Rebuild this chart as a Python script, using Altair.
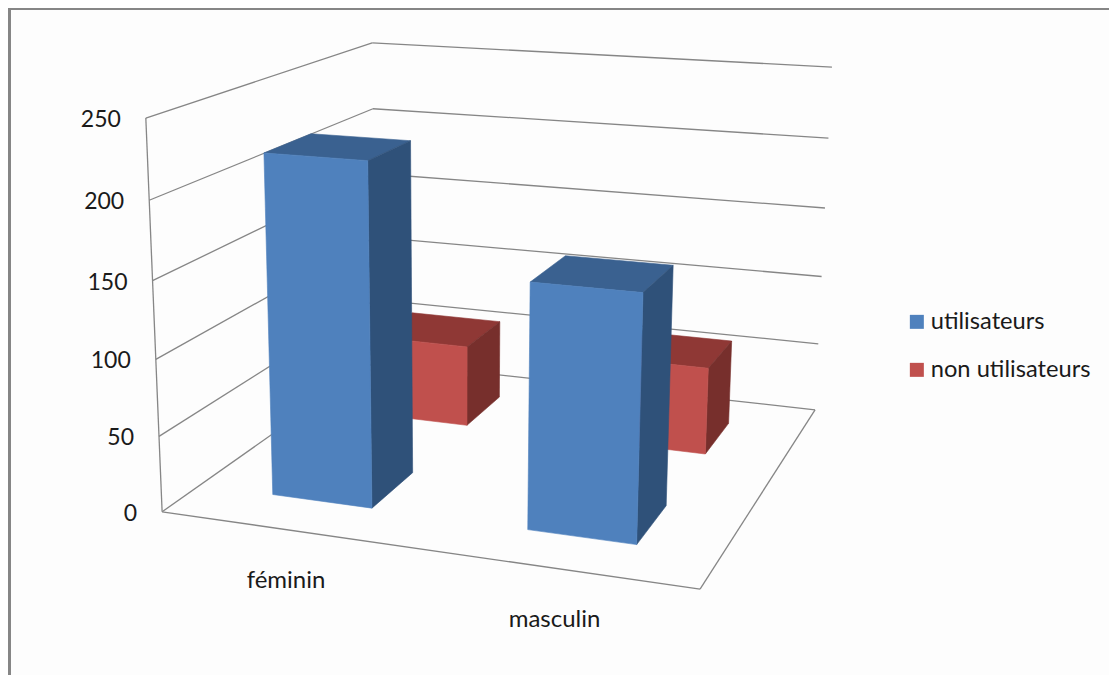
import altair as alt
import numpy as np
import pandas as pd

# Chart data
categories = ["féminin", "masculin"]
series = ["utilisateurs", "non utilisateurs"]
values = {
    "utilisateurs": [223, 157],
    "non utilisateurs": [58, 61],
}
value_ticks = [0, 50, 100, 150, 200, 250]

# Shades of each series: front, side and top faces
front_colors = ["#4F81BD", "#C0504D"]
side_colors = ["#2F5179", "#772F2C"]
top_colors = ["#3A6190", "#8F3835"]
grid_color = "#868686"
frame_color = "#868686"
panel_color = "#FDFDFD"
text_color = "#1A1A1A"
font = "Lato"

W, H = 1109, 675

# Bar footprint inside one category / one series row of the 3D box
bar_half_width = 0.2
bar_half_depth = 0.1

# Camera calibration: corners of the 3D box (category, depth, value) and their canvas positions
box_model = [(0, 0, 0), (2, 0, 0), (2, 1, 0), (0, 1, 0), (0, 0, 250), (0, 1, 250), (2, 1, 250)]
box_canvas = [(162, 512), (700, 589), (815, 410), (376, 361), (146, 118), (372, 43), (832, 67)]

rows = []
for (u, v, w), (cx, cy) in zip(box_model, box_canvas):
    m = [u, v, w / 250, 1]
    rows.append(m + [0, 0, 0, 0] + [-cx * t for t in m])
    rows.append([0, 0, 0, 0] + m + [-cy * t for t in m])
camera = np.linalg.svd(np.array(rows, float))[2][-1].reshape(3, 4)


def project(u, v, w):
    p = camera @ np.array([u, v, w / 250, 1])
    return p[0] / p[2], p[1] / p[2]


def segment_rows(name, a, b):
    out = []
    for i, pt in enumerate((a, b)):
        x, y = project(*pt)
        out.append({"seg": name, "i": i, "x": x, "y": y})
    return out


# Walls and floor outline
grid_rows = []
for w in value_ticks:
    grid_rows += segment_rows(f"left{w}", (0, 0, w), (0, 1, w))
    grid_rows += segment_rows(f"back{w}", (0, 1, w), (2, 1, w))
grid_rows += segment_rows("edge_left", (0, 0, 0), (0, 0, 250))
grid_rows += segment_rows("floor_front", (0, 0, 0), (2, 0, 0))
grid_rows += segment_rows("floor_right", (2, 0, 0), (2, 1, 0))

# Faces of the bars, far row first so nearer bars paint over it
face_rows = []
for s_idx in (1, 0):
    name = series[s_idx]
    for c_idx, val in enumerate(values[name]):
        u0, u1 = c_idx + 0.5 - bar_half_width, c_idx + 0.5 + bar_half_width
        vc = (s_idx + 0.5) / 2
        v0, v1 = vc - bar_half_depth, vc + bar_half_depth
        faces = [
            ("top", top_colors[s_idx], [(u0, v0, val), (u1, v0, val), (u1, v1, val), (u0, v1, val)]),
            ("side", side_colors[s_idx], [(u1, v0, 0), (u1, v1, 0), (u1, v1, val), (u1, v0, val)]),
            ("front", front_colors[s_idx], [(u0, v0, 0), (u1, v0, 0), (u1, v0, val), (u0, v0, val)]),
        ]
        for kind, color, corners in faces:
            for i, pt in enumerate(corners + corners[:1]):
                x, y = project(*pt)
                face_rows.append({"face": f"{s_idx}-{c_idx}-{kind}", "i": i, "x": x, "y": y, "shade": color})

tick_rows = []
for w in value_ticks:
    x, y = project(0, 0, w)
    tick_rows.append({"x": x - 25, "y": y + 2, "label": str(w)})

cat_rows = []
for i, c in enumerate(categories):
    x, y = project(i + 0.5, 0, 0)
    cat_rows.append({"x": x - 1, "y": y + 51.5, "label": c})

x_enc = alt.X("x:Q", scale=alt.Scale(domain=[0, W], nice=False, zero=False), axis=None)
y_enc = alt.Y("y:Q", scale=alt.Scale(domain=[H, 0], nice=False, zero=False), axis=None)

# Panel frame: only its top and left edges fall inside the canvas
frame_df = pd.DataFrame(
    [
        {"x": 8, "x2": W, "y": 8, "y2": H, "c": frame_color},
        {"x": 11, "x2": W, "y": 10, "y2": H, "c": panel_color},
    ]
)
frame = (
    alt.Chart(frame_df)
    .mark_rect()
    .encode(x=x_enc, x2="x2:Q", y=y_enc, y2="y2:Q", fill=alt.Fill("c:N", scale=None), order=alt.Order("x:Q"))
)

grid = (
    alt.Chart(pd.DataFrame(grid_rows))
    .mark_line(color=grid_color, strokeWidth=1.3)
    .encode(x=x_enc, y=y_enc, detail="seg:N", order="i:Q")
)

bars = (
    alt.Chart(pd.DataFrame(face_rows))
    .mark_line(strokeWidth=0.6)
    .encode(
        x=x_enc,
        y=y_enc,
        detail="face:N",
        order="i:Q",
        fill=alt.Fill("shade:N", scale=None),
        stroke=alt.Stroke("shade:N", scale=None),
    )
)

ticks = (
    alt.Chart(pd.DataFrame(tick_rows))
    .mark_text(font=font, fontSize=23, align="right", baseline="middle", color=text_color)
    .encode(x=x_enc, y=y_enc, text="label:N")
)

cats = (
    alt.Chart(pd.DataFrame(cat_rows))
    .mark_text(font=font, fontSize=24, align="center", baseline="middle", color=text_color)
    .encode(x=x_enc, y=y_enc, text="label:N")
)

# Zero-sized marks that carry the series legend
legend_layer = (
    alt.Chart(pd.DataFrame({"name": series, "x": [600, 600], "y": [300, 300]}))
    .mark_square(size=0, opacity=1)
    .encode(
        x=x_enc,
        y=y_enc,
        color=alt.Color(
            "name:N",
            scale=alt.Scale(domain=series, range=front_colors),
            legend=alt.Legend(
                title=None,
                orient="none",
                legendX=905,
                legendY=310,
                symbolType="square",
                symbolSize=196,
                symbolStrokeWidth=0,
                labelFont=font,
                labelFontSize=23.7,
                labelColor=text_color,
                rowPadding=23,
                labelOffset=2,
            ),
        ),
    )
)

chart = (
    alt.layer(frame, grid, bars, ticks, cats, legend_layer)
    .properties(width=W, height=H, padding=0, autosize=alt.AutoSizeParams(type="none"), background="white")
    .configure_view(strokeWidth=0)
)

chart.save("out.html", embed_options={"renderer": "svg", "actions": False})
